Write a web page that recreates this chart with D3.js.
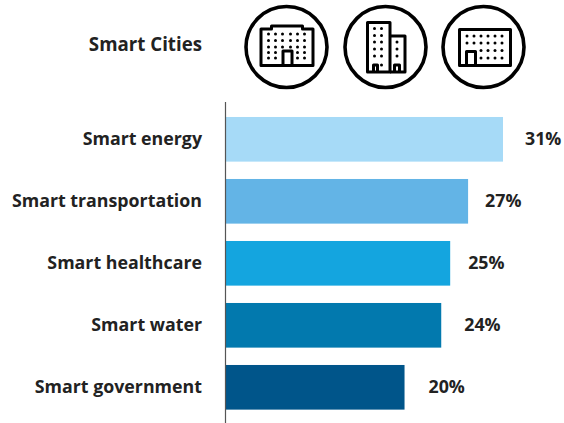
<!DOCTYPE html>
<html>
<head>
<meta charset="utf-8">
<title>Smart Cities</title>
<script src="https://d3js.org/d3.v7.min.js"></script>
<style>
html, body { margin: 0; padding: 0; background: #fff; }
text { font-family: "Open Sans", sans-serif; font-weight: 700; font-size: 17.8px; fill: #222; }
text.title { font-size: 18.7px; }
</style>
</head>
<body>
<script>

var categories = ["Smart energy", "Smart transportation", "Smart healthcare", "Smart water", "Smart government"];
var shares = [31, 27.1, 25.1, 24.1, 20];
var barColors = ["#a6daf7", "#63b4e6", "#14a5df", "#0279ae", "#00558a"];
var labelGaps = [22, 17, 18, 23, 24];
var title = "Smart Cities";

var width = 564,
    height = 423,
    axisX = 225.5;

var svg = d3.select("body").append("svg")
    .attr("width", width)
    .attr("height", height)
    .style("display", "block");

var x = d3.scaleLinear().domain([0, 31]).range([axisX, 503]);

var y = d3.scaleBand()
    .domain(categories)
    .range([108.3, 418.3])
    .paddingInner(0.28)
    .paddingOuter(0.14);

svg.selectAll("rect.bar")
    .data(categories)
    .enter().append("rect")
    .attr("class", "bar")
    .attr("x", x(0))
    .attr("y", function(d) { return y(d); })
    .attr("width", function(d, i) { return x(shares[i]) - x(0); })
    .attr("height", y.bandwidth())
    .attr("fill", function(d, i) { return barColors[i]; });

svg.append("line")
    .attr("x1", axisX).attr("x2", axisX)
    .attr("y1", 102).attr("y2", height)
    .attr("stroke", "#555")
    .attr("stroke-width", 1.2);

svg.selectAll("text.cat")
    .data(categories)
    .enter().append("text")
    .attr("class", "cat")
    .attr("x", 202)
    .attr("y", function(d) { return y(d) + y.bandwidth() / 2; })
    .attr("dy", "0.3em")
    .attr("text-anchor", "end")
    .text(function(d) { return d; });

svg.selectAll("text.val")
    .data(categories)
    .enter().append("text")
    .attr("class", "val")
    .attr("x", function(d, i) { return x(shares[i]) + labelGaps[i]; })
    .attr("y", function(d) { return y(d) + y.bandwidth() / 2; })
    .attr("dy", "0.3em")
    .text(function(d, i) { return d3.format(".0f")(shares[i]) + "%"; });

svg.append("text")
    .attr("class", "title")
    .attr("x", 202)
    .attr("y", 45)
    .attr("dy", "0.3em")
    .attr("text-anchor", "end")
    .text(title);

// building icons in the header
function badge(cx) {
  var g = svg.append("g").attr("transform", "translate(" + cx + ",47)");
  g.append("circle").attr("r", 40.5).attr("fill", "none").attr("stroke", "#000").attr("stroke-width", 3.6);
  return g;
}

function outline(g, d) {
  g.append("path").attr("d", d).attr("fill", "none").attr("stroke", "#000")
    .attr("stroke-width", 3).attr("stroke-linejoin", "round");
}

function dots(g, xs, ys, skip) {
  xs.forEach(function(px) {
    ys.forEach(function(py) {
      if (skip && skip(px, py)) return;
      g.append("circle").attr("cx", px).attr("cy", py).attr("r", 1.5).attr("fill", "#000");
    });
  });
}

var left = badge(286.5);
outline(left, "M-25.5,18.5V-18H-15V-21H16V-18H26.5V18.5Z");
outline(left, "M-3.5,18.5V4H5.5V18.5");
dots(left, [-18, -11, -4, 4, 11, 18], [-13, -6.5, 0, 11], function(px, py) {
  return py > 0 && px > -5 && px < 5;
});
dots(left, [-18, -11, -4, 4, 11, 18], [5.5], function(px) { return px > -5 && px < 5; });

var middle = badge(385.5);
outline(middle, "M-18,25V-24.5H4.5V25Z");
outline(middle, "M4.5,-11H19.5V25H4.5");
outline(middle, "M-12,25V18H-8V25");
outline(middle, "M9,25V18H14V25");
dots(middle, [-11, -4], [-18.5, -11.5, -5, 2, 9]);
dots(middle, [-4], [18]);
dots(middle, [11.5], [-5, 2, 9]);

var right = badge(483.5);
outline(right, "M-24,18.5V-17.5H27V18.5Z");
outline(right, "M-17,18.5V4.5H-8V18.5");
dots(right, [-16.5, -9.5, -2.5, 4.5, 11.5, 18.5], [-11, -4]);
dots(right, [-2.5, 4.5, 11.5, 18.5], [3.5, 11]);

</script>
</body>
</html>
